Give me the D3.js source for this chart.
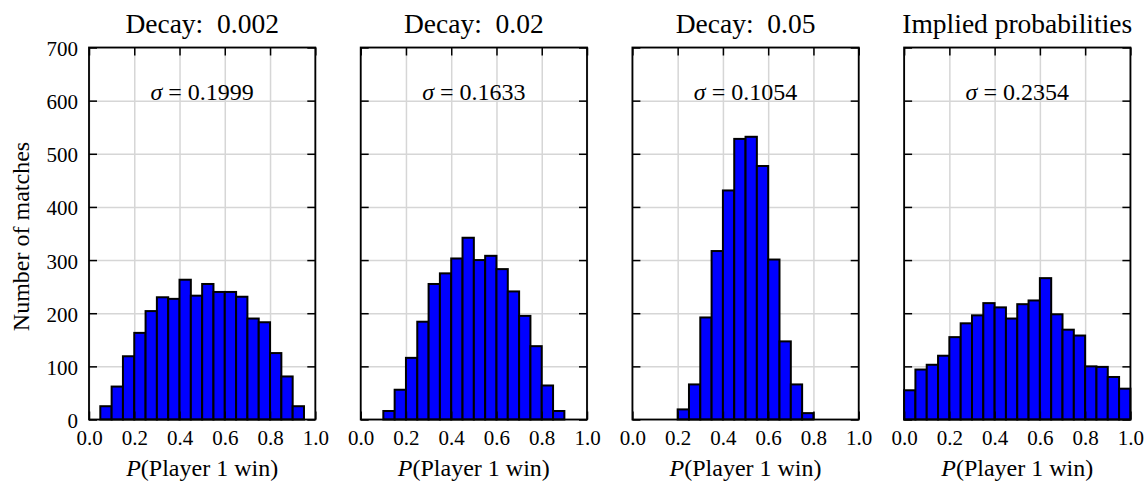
<!DOCTYPE html>
<html>
<head>
<meta charset="utf-8">
<script src="https://cdn.jsdelivr.net/npm/d3@7"></script>
<style>
  body { margin: 0; background: #fff; }
  svg { display: block; }
  text { font-family: "Liberation Serif", serif; fill: #000; }
</style>
</head>
<body>
<svg id="chart" width="1146" height="482"></svg>
<script>
// ---- data ----
const binStarts = [0.00, 0.05, 0.10, 0.15, 0.20, 0.25, 0.30, 0.35, 0.40, 0.45,
                   0.50, 0.55, 0.60, 0.65, 0.70, 0.75, 0.80, 0.85, 0.90, 0.95];
const binEnds   = [0.05, 0.10, 0.15, 0.20, 0.25, 0.30, 0.35, 0.40, 0.45, 0.50,
                   0.55, 0.60, 0.65, 0.70, 0.75, 0.80, 0.85, 0.90, 0.95, 1.00];
const decay002 = [0, 25, 62, 119, 163, 204, 230, 227, 263, 233, 255, 240, 240, 231, 190, 183, 125, 81, 25, 0];
const decay02  = [0, 0, 16, 56, 116, 184, 255, 275, 303, 342, 300, 308, 283, 241, 195, 138, 64, 16, 0, 0];
const decay05  = [0, 0, 0, 0, 19, 66, 192, 317, 431, 528, 532, 477, 301, 147, 66, 12, 0, 0, 0, 0];
const implied  = [55, 94, 103, 120, 155, 181, 196, 219, 211, 190, 217, 224, 266, 198, 169, 158, 100, 99, 80, 58];
const titles = ["Decay:\u00A0\u00A00.002", "Decay:\u00A0\u00A00.02", "Decay:\u00A0\u00A00.05", "Implied probabilities"];
const sigmas = ["0.1999", "0.1633", "0.1054", "0.2354"];
const seriesList = [decay002, decay02, decay05, implied];
const xTicks = [0.0, 0.2, 0.4, 0.6, 0.8, 1.0];
const yTicks = [0, 100, 200, 300, 400, 500, 600, 700];
const yLabel = "Number of matches";

// ---- layout ----
const svg = d3.select("#chart");
const FONT = '"Liberation Serif", serif';
const panelLeft0 = 89, panelStep = 271.7, panelW = 226.3;
const plotTop = 47.5, plotBottom = 419.5;
const y = d3.scaleLinear().domain([0, 700]).range([plotBottom, plotTop]);
const tickLen = 8;

seriesList.forEach((vals, i) => {
  const left = panelLeft0 + i * panelStep;
  const x = d3.scaleLinear().domain([0, 1]).range([left, left + panelW]);
  const g = svg.append("g");

  // grid
  const gridX = g.append("g").attr("transform", `translate(0,${plotBottom})`)
    .call(d3.axisBottom(x).tickValues(xTicks).tickSize(-(plotBottom - plotTop)).tickFormat(""));
  const gridY = g.append("g").attr("transform", `translate(${left},0)`)
    .call(d3.axisLeft(y).tickValues(yTicks).tickSize(-panelW).tickFormat(""));
  [gridX, gridY].forEach(a => {
    a.select(".domain").remove();
    a.selectAll("line").attr("stroke", "#d6d6d6").attr("stroke-width", 1.5);
  });

  // bars
  const data = vals.map((v, k) => ({ x0: binStarts[k], x1: binEnds[k], v }));
  g.append("g").selectAll("rect").data(data.filter(d => d.v > 0)).join("rect")
    .attr("x", d => x(d.x0))
    .attr("width", d => x(d.x1) - x(d.x0))
    .attr("y", d => y(d.v))
    .attr("height", d => y(0) - y(d.v))
    .attr("fill", "#0000ff")
    .attr("stroke", "#000")
    .attr("stroke-width", 2);

  // axes (inward ticks on all sides)
  const axB = g.append("g").attr("transform", `translate(0,${plotBottom})`)
    .call(d3.axisBottom(x).tickValues(xTicks).tickSize(-tickLen).tickPadding(10.5).tickFormat(d3.format(".1f")));
  const axT = g.append("g").attr("transform", `translate(0,${plotTop})`)
    .call(d3.axisTop(x).tickValues(xTicks).tickSize(-tickLen).tickFormat(""));
  const axL = g.append("g").attr("transform", `translate(${left},0)`)
    .call(d3.axisLeft(y).tickValues(yTicks).tickSize(-tickLen).tickPadding(11).tickFormat(i === 0 ? d3.format("d") : ""));
  const axR = g.append("g").attr("transform", `translate(${left + panelW},0)`)
    .call(d3.axisRight(y).tickValues(yTicks).tickSize(-tickLen).tickFormat(""));
  [axB, axT, axL, axR].forEach(a => {
    a.select(".domain").remove();
    a.selectAll("line").attr("stroke", "#000").attr("stroke-width", 1.5);
    a.selectAll("text").style("font-family", FONT).attr("font-size", 21).attr("fill", "#000");
  });
  axL.selectAll("text").attr("dy", "0.38em");

  // frame
  g.append("rect").attr("x", left).attr("y", plotTop).attr("width", panelW).attr("height", plotBottom - plotTop)
    .attr("fill", "none").attr("stroke", "#000").attr("stroke-width", 1.8);

  // title
  g.append("text").attr("x", left + panelW / 2).attr("y", 33).attr("text-anchor", "middle")
    .attr("font-size", 27.5).text(titles[i]);

  // sigma annotation
  const s = g.append("text").attr("x", left + panelW / 2).attr("y", 100).attr("text-anchor", "middle")
    .attr("font-size", 24);
  s.append("tspan").attr("font-style", "italic").text("σ");
  s.append("tspan").text(" = " + sigmas[i]);

  // x label
  const xl = g.append("text").attr("x", left + panelW / 2).attr("y", 476).attr("text-anchor", "middle")
    .attr("font-size", 24);
  xl.append("tspan").attr("font-style", "italic").text("P");
  xl.append("tspan").text("(Player 1 win)");
});

// y label
svg.append("text").attr("transform", `translate(28.5,${(plotTop + plotBottom) / 2 + 3}) rotate(-90)`)
  .attr("text-anchor", "middle").attr("font-size", 24).text(yLabel);
</script>
</body>
</html>
